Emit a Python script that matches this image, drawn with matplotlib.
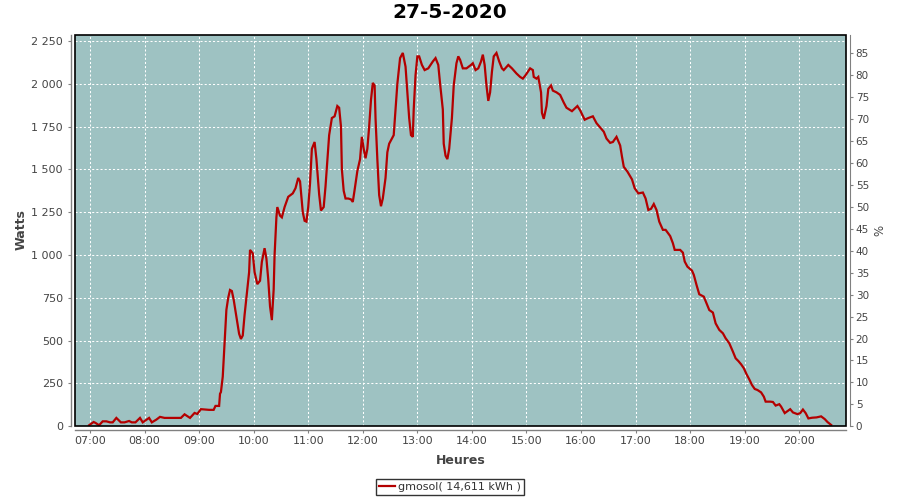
import matplotlib
matplotlib.use("Agg")
import matplotlib.pyplot as plt
from matplotlib.patches import Rectangle

# ---------------- data ----------------
chart_title = "27-5-2020"
series_label = "gmosol( 14,611 kWh )"
x_label = "Heures"
y_label = "Watts"
y2_label = "%"

times = [
    "06:59", "07:04", "07:06", "07:10", "07:14", "07:18", "07:22", "07:25", "07:29", "07:34",
    "07:38", "07:43", "07:46", "07:50", "07:55", "07:58", "08:05", "08:08", "08:13", "08:17",
    "08:22", "08:40", "08:44", "08:50", "08:55", "08:58", "09:02", "09:07", "09:11", "09:16",
    "09:18", "09:22", "09:23", "09:24", "09:26", "09:27", "09:28", "09:29", "09:30", "09:32",
    "09:34", "09:36", "09:38", "09:41", "09:44", "09:46", "09:48", "09:50", "09:53", "09:55",
    "09:56", "09:59", "10:01", "10:04", "10:07", "10:09", "10:12", "10:14", "10:16", "10:18",
    "10:20", "10:22", "10:23", "10:25", "10:26", "10:29", "10:31", "10:34", "10:38", "10:43",
    "10:46", "10:49", "10:51", "10:54", "10:56", "10:58", "11:00", "11:02", "11:04", "11:07",
    "11:09", "11:12", "11:14", "11:17", "11:19", "11:21", "11:23", "11:26", "11:29", "11:32",
    "11:34", "11:36", "11:37", "11:39", "11:41", "11:44", "11:47", "11:49", "11:51", "11:54",
    "11:57", "11:59", "12:01", "12:03", "12:05", "12:07", "12:09", "12:11", "12:13", "12:14",
    "12:16", "12:18", "12:20", "12:22", "12:25", "12:27", "12:29", "12:32", "12:34", "12:36",
    "12:38", "12:40", "12:41", "12:44", "12:47", "12:49", "12:51", "12:53", "12:55", "12:56",
    "12:58", "13:00", "13:02", "13:05", "13:08", "13:12", "13:17", "13:20", "13:23", "13:25",
    "13:28", "13:29", "13:31", "13:33", "13:35", "13:38", "13:40", "13:43", "13:45", "13:47",
    "13:50", "13:54", "13:59", "14:01", "14:04", "14:07", "14:10", "14:12", "14:14", "14:16",
    "14:18", "14:20", "14:22", "14:24", "14:27", "14:30", "14:33", "14:35", "14:40", "14:44",
    "14:49", "14:53", "14:56", "14:59", "15:04", "15:07", "15:08", "15:11", "15:13", "15:16",
    "15:17", "15:19", "15:22", "15:24", "15:27", "15:29", "15:33", "15:37", "15:41", "15:44",
    "15:50", "15:56", "15:59", "16:04", "16:08", "16:13", "16:17", "16:25", "16:28", "16:32",
    "16:35", "16:39", "16:43", "16:45", "16:47", "16:51", "16:56", "16:59", "17:03", "17:08",
    "17:11", "17:14", "17:17", "17:20", "17:23", "17:26", "17:30", "17:33", "17:38", "17:41",
    "17:43", "17:49", "17:52", "17:54", "17:57", "18:02", "18:04", "18:07", "18:10", "18:15",
    "18:18", "18:21", "18:25", "18:28", "18:32", "18:36", "18:39", "18:43", "18:47", "18:50",
    "18:53", "18:56", "18:59", "19:02", "19:05", "19:08", "19:11", "19:14", "19:18", "19:21",
    "19:23", "19:28", "19:31", "19:34", "19:38", "19:40", "19:44", "19:50", "19:53", "19:58",
    "20:01", "20:04", "20:07", "20:10", "20:14", "20:19", "20:24", "20:28", "20:31", "20:35",
]
watts = [
    6, 25, 20, 6, 29, 29, 23, 23, 49, 23,
    23, 31, 23, 23, 49, 23, 49, 23, 39, 55,
    49, 49, 70, 49, 78, 72, 100, 98, 96, 96,
    119, 119, 190, 200, 290, 390, 500, 600, 680, 750,
    796, 790, 740, 640, 540, 510, 530, 650, 800, 900,
    1030, 1010, 900, 830, 850, 960, 1040, 980, 860, 700,
    620, 800, 1000, 1220, 1280, 1230, 1220, 1280, 1340, 1360,
    1390, 1450, 1430, 1250, 1200, 1195, 1280, 1420, 1620, 1660,
    1560, 1355, 1260, 1280, 1400, 1550, 1700, 1800, 1810, 1870,
    1860, 1750, 1500, 1375, 1330, 1330, 1325, 1310, 1380, 1490,
    1560, 1690, 1620, 1565, 1620, 1750, 1905, 2005, 1990, 1800,
    1560, 1350, 1285, 1330, 1450, 1600, 1650, 1680, 1700, 1850,
    2000, 2100, 2150, 2180, 2100, 1950, 1800, 1700, 1690, 1850,
    2050, 2160, 2160, 2110, 2080, 2090, 2130, 2150, 2110, 2000,
    1850, 1650, 1580, 1560, 1620, 1800, 1990, 2120, 2160, 2140,
    2090, 2090, 2110, 2120, 2080, 2090, 2130, 2170, 2110, 1990,
    1900, 1950, 2070, 2160, 2180, 2130, 2090, 2080, 2110, 2090,
    2060, 2040, 2030, 2050, 2090, 2080, 2040, 2030, 2040, 1950,
    1830, 1795, 1870, 1970, 1990, 1960, 1950, 1935, 1890, 1860,
    1840, 1870, 1845, 1790, 1800, 1810, 1770, 1720, 1680, 1655,
    1660, 1690, 1640, 1575, 1515, 1487, 1442, 1390, 1360, 1365,
    1330, 1263, 1270, 1298, 1263, 1195, 1147, 1147, 1111, 1069,
    1030, 1030, 1014, 962, 932, 909, 884, 825, 771, 757,
    718, 679, 664, 601, 563, 543, 514, 485, 436, 397,
    381, 362, 339, 304, 274, 241, 218, 212, 198, 173,
    144, 144, 142, 121, 129, 115, 77, 100, 81, 71,
    77, 98, 77, 46, 50, 52, 58, 42, 25, 8,
]

hour_ticks = [7, 8, 9, 10, 11, 12, 13, 14, 15, 16, 17, 18, 19, 20]
hour_labels = ["07:00", "08:00", "09:00", "10:00", "11:00", "12:00", "13:00",
               "14:00", "15:00", "16:00", "17:00", "18:00", "19:00", "20:00"]
watt_ticks = [0, 250, 500, 750, 1000, 1250, 1500, 1750, 2000, 2250]
watt_labels = ["0", "250", "500", "750", "1 000", "1 250", "1 500", "1 750", "2 000", "2 250"]
pct_ticks = [0, 5, 10, 15, 20, 25, 30, 35, 40, 45, 50, 55, 60, 65, 70, 75, 80, 85]

# ---------------- style ----------------
plot_bg = "#9ec2c2"
line_color = "#b40000"
axis_gray = "#808080"
text_gray = "#444444"

plt.rcParams["font.family"] = ["DejaVu Sans"]

hours = [int(t[:2]) + int(t[3:]) / 60.0 for t in times]

fig = plt.figure(figsize=(9, 5), dpi=100)
fig.patch.set_facecolor("white")
ax = fig.add_axes([75.3 / 900, 1 - 426.3 / 500, (846 - 75.3) / 900, (426.3 - 35.3) / 500])
ax.set_facecolor(plot_bg)

line, = ax.plot(hours, watts, color=line_color, lw=1.6, solid_joinstyle="miter",
                label=series_label, zorder=3)

ax.set_xlim(6.731, 20.856)
ax.set_ylim(0, 2283)
ax.set_xticks(hour_ticks)
ax.set_xticklabels(hour_labels)
ax.set_yticks(watt_ticks)
ax.set_yticklabels(watt_labels)

ax.grid(True, color="white", lw=0.75, linestyle=(0, (2, 2)), zorder=1)
ax.set_axisbelow(True)

for side in ("top", "right"):
    ax.spines[side].set_visible(False)
for side in ("left", "bottom"):
    ax.spines[side].set_position(("outward", 3))
    ax.spines[side].set_color(axis_gray)
    ax.spines[side].set_linewidth(1.0)

ax.tick_params(axis="both", colors=axis_gray, labelcolor=text_gray, labelsize=8,
               length=2, width=0.8, direction="out")
ax.tick_params(axis="y", pad=4)
ax.tick_params(axis="x", pad=2)

ax2 = ax.twinx()
ax2.set_ylim(0, 89.1)
ax2.set_yticks(pct_ticks)
ax2.set_yticklabels([str(p) for p in pct_ticks])
for side in ("top", "left", "bottom"):
    ax2.spines[side].set_visible(False)
ax2.spines["right"].set_position(("outward", 3))
ax2.spines["right"].set_color(axis_gray)
ax2.tick_params(axis="y", colors=axis_gray, labelcolor=text_gray, labelsize=7.5,
                length=2, width=0.8, direction="out", pad=2)

# plot border
ax.add_patch(Rectangle((0, 0), 1, 1, transform=ax.transAxes, fill=False,
                       edgecolor="black", lw=1.2, zorder=5, clip_on=False))

# axis titles
fig.text(21 / 900, 1 - 230 / 500, y_label, rotation=90, ha="center", va="center",
         fontsize=9, fontweight="bold", color=text_gray)
fig.text(460.5 / 900, 1 - 460 / 500, x_label, ha="center", va="center",
         fontsize=9, fontweight="bold", color=text_gray)
fig.text(880 / 900, 1 - 230 / 500, y2_label, rotation=90, ha="center", va="center",
         fontsize=8.5, color=text_gray)

fig.text(0.5, 1 - 13 / 500, chart_title, ha="center", va="center",
         fontsize=14.5, fontweight="bold", color="black")

leg = fig.legend(handles=[line], loc="center", bbox_to_anchor=(0.5, 1 - 487 / 500),
                 frameon=True, fancybox=False, fontsize=8, handlelength=1.4,
                 handletextpad=0.3, borderpad=0.3, borderaxespad=0)
leg.get_frame().set_edgecolor("black")
leg.get_frame().set_linewidth(1.0)
for t in leg.get_texts():
    t.set_color("#333333")

fig.savefig("out.png", dpi=100)
